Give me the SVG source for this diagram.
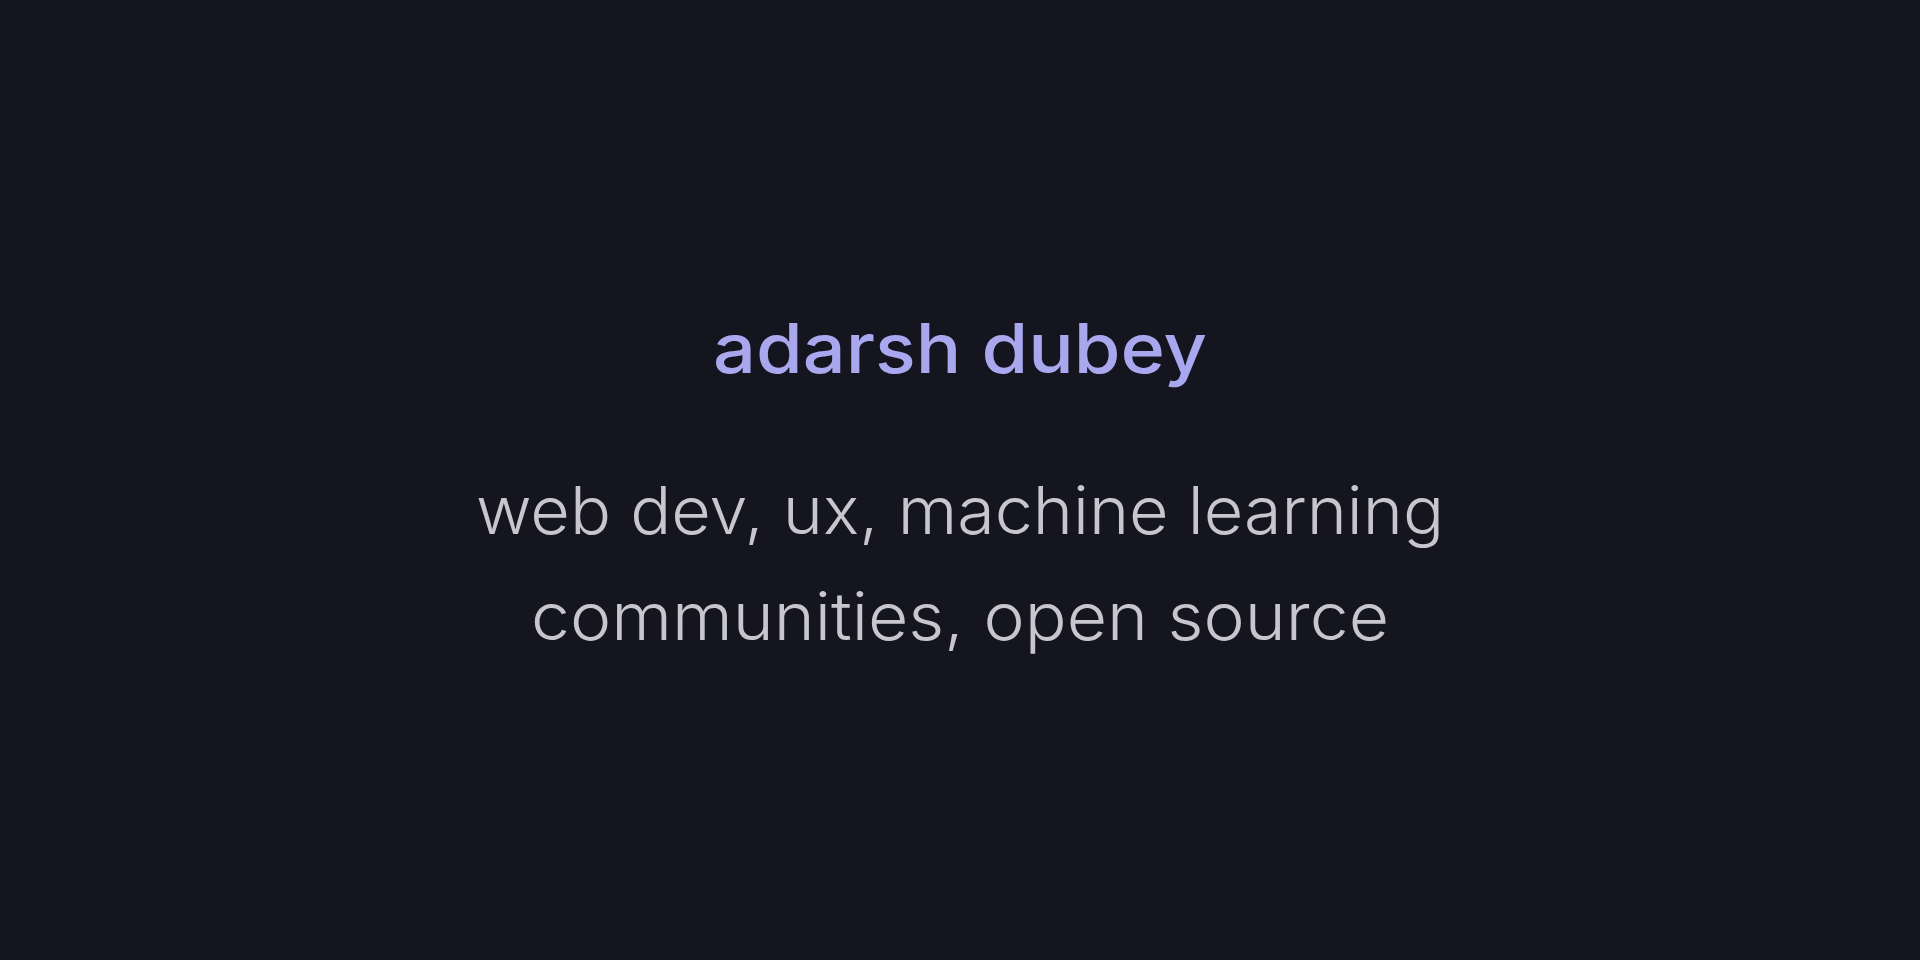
<svg xmlns="http://www.w3.org/2000/svg" width="1920" height="960" viewBox="0 0 1920 960">
<style>
.title{font-family:"Inter","Liberation Sans",sans-serif;font-size:69px;font-weight:500;fill:#a9a8ee;text-anchor:middle}
.sub{font-family:"Inter","Liberation Sans",sans-serif;font-size:66px;font-weight:300;fill:#c6c6cc;text-anchor:middle}
</style>
<rect width="1920" height="960" fill="#15151f"/>
<g id="title"><text class="title" x="960" y="373" textLength="494" lengthAdjust="spacingAndGlyphs">adarsh dubey</text></g>
<g id="line1"><text class="sub" x="960" y="534" textLength="968" lengthAdjust="spacingAndGlyphs">web dev, ux, machine learning</text></g>
<g id="line2"><text class="sub" x="960" y="640" textLength="858" lengthAdjust="spacingAndGlyphs">communities, open source</text></g>
</svg>
